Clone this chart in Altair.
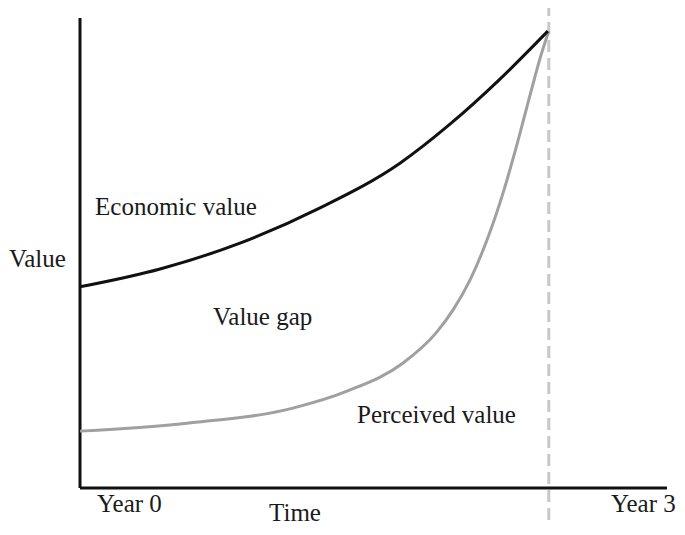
import altair as alt
import pandas as pd

# Economic value curve (time in years, value in % of top)
econ_t = [0.0, 0.410, 0.819, 1.229, 1.638, 1.894, 2.150, 2.395]
econ_v = [42.8, 46.6, 52.1, 59.6, 69.1, 77.4, 87.0, 97.2]

# Perceived value curve
perc_t = [0.0, 0.548, 1.090, 1.367, 1.654, 1.823, 1.910, 1.997, 2.084, 2.166, 2.232, 2.304, 2.360, 2.400]
perc_v = [12.1, 13.8, 17.0, 20.6, 26.6, 33.0, 37.9, 44.3, 52.8, 62.8, 72.3, 83.6, 92.1, 97.2]

# Vertical dashed marker (end of horizon)
marker_t = 2.40

# Annotation texts
labels = ["Economic value", "Value gap", "Perceived value", "Value", "Year 0", "Time"]
label_t = [0.077, 0.681, 1.418, -0.364, 0.087, 0.968]
label_v = [58.1, 34.7, 13.8, 47.0, -5.1, -7.0]
right_label = "Year 3"
right_label_t = 3.05
right_label_v = -5.1

FONT = "Liberation Serif"

econ = pd.DataFrame({"t": econ_t, "v": econ_v})
perc = pd.DataFrame({"t": perc_t, "v": perc_v})
ann = pd.DataFrame({"t": label_t, "v": label_v, "label": labels})
ann_r = pd.DataFrame({"t": [right_label_t], "v": [right_label_v], "label": [right_label]})

xs = alt.Scale(domain=[0, 3], range=[72, 658], zero=False, nice=False)
ys = alt.Scale(domain=[0, 100], range=[480, 10], zero=False, nice=False)
X = lambda f="t": alt.X(f, type="quantitative", scale=xs, axis=None)
Y = lambda f="v": alt.Y(f, type="quantitative", scale=ys, axis=None)

axes_df = pd.DataFrame({"t": [0, 0], "v": [0, 0], "t2": [0, 3.005], "v2": [100, 0]})
axes = alt.Chart(axes_df).mark_rule(color="#111111", strokeWidth=3).encode(
    x=X(), y=Y(), x2="t2", y2="v2"
)

dash_df = pd.DataFrame({"t": [marker_t], "v": [-6.8], "v2": [103.8]})
dash = alt.Chart(dash_df).mark_rule(color="#c8c8c8", strokeWidth=3, strokeDash=[12, 6]).encode(
    x=X(), y=Y(), y2="v2"
)

perc_line = alt.Chart(perc).mark_line(color="#a0a0a0", strokeWidth=3, interpolate="monotone").encode(
    x=X(), y=Y()
)
econ_line = alt.Chart(econ).mark_line(color="#111111", strokeWidth=3, interpolate="monotone").encode(
    x=X(), y=Y()
)

txt = alt.Chart(ann).mark_text(
    align="left", baseline="alphabetic", font=FONT, fontSize=25, color="#1a1a1a"
).encode(x=X(), y=Y(), text="label:N")

txt_r = alt.Chart(ann_r).mark_text(
    align="right", baseline="alphabetic", font=FONT, fontSize=25, color="#1a1a1a"
).encode(x=X(), y=Y(), text="label:N")

chart = alt.layer(dash, axes, perc_line, econ_line, txt, txt_r).properties(
    width=669, height=519, padding=0, autosize=alt.AutoSizeParams(type="none")
).configure_view(stroke=None)

chart.save("out.html", embed_options={"renderer": "svg", "actions": False})
